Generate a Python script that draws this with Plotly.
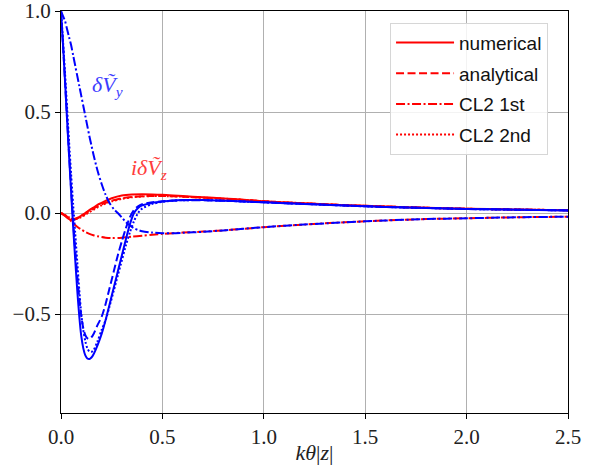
import plotly.graph_objects as go

# ---------------- data ----------------
# blue: delta V_y
xb = [0, 0.01, 0.02, 0.03, 0.04, 0.05, 0.06, 0.07, 0.08, 0.09, 0.10, 0.11, 0.12,
      0.13, 0.14, 0.15, 0.16, 0.18, 0.20, 0.22, 0.24, 0.26, 0.28, 0.30, 0.32,
      0.34, 0.36, 0.38, 0.40, 0.45, 0.50, 0.55, 0.60, 0.70, 0.80, 0.90, 1.0,
      1.2, 1.4, 1.6, 1.8, 2.0, 2.2, 2.5]
vy_num = [1.0, 0.83, 0.65, 0.46, 0.28, 0.10, -0.07, -0.23, -0.38, -0.51, -0.61, -0.67, -0.705,
          -0.72, -0.723, -0.715, -0.70, -0.655, -0.60, -0.53, -0.45, -0.37, -0.29, -0.21, -0.13,
          -0.055, 0.0, 0.025, 0.038, 0.05, 0.057, 0.062, 0.064, 0.064, 0.061, 0.057, 0.053,
          0.045, 0.037, 0.030, 0.025, 0.020, 0.017, 0.013]
vy_ana = [1.0, 0.83, 0.65, 0.47, 0.29, 0.12, -0.04, -0.18, -0.31, -0.42, -0.51, -0.57, -0.605,
          -0.62, -0.623, -0.615, -0.60, -0.555, -0.515, -0.45, -0.37, -0.29, -0.21, -0.14, -0.075,
          -0.02, 0.015, 0.033, 0.043, 0.053, 0.058, 0.061, 0.063, 0.063, 0.061, 0.057, 0.053,
          0.045, 0.037, 0.030, 0.025, 0.020, 0.017, 0.013]
vy_cl1 = [1.0, 0.975, 0.95, 0.91, 0.87, 0.83, 0.78, 0.73, 0.68, 0.63, 0.58, 0.53, 0.48,
          0.43, 0.38, 0.335, 0.29, 0.21, 0.145, 0.09, 0.048, 0.02, 0.0, -0.022, -0.045,
          -0.062, -0.075, -0.084, -0.09, -0.097, -0.10, -0.10, -0.098, -0.093, -0.086, -0.078, -0.070,
          -0.057, -0.046, -0.037, -0.030, -0.026, -0.022, -0.018]
vy_cl2 = [1.0, 0.85, 0.69, 0.52, 0.35, 0.19, 0.04, -0.10, -0.24, -0.38, -0.50, -0.58, -0.635,
          -0.67, -0.685, -0.687, -0.68, -0.635, -0.58, -0.53, -0.46, -0.385, -0.31, -0.235, -0.16,
          -0.095, -0.04, 0.0, 0.022, 0.045, 0.055, 0.061, 0.063, 0.064, 0.061, 0.057, 0.053,
          0.045, 0.037, 0.030, 0.025, 0.020, 0.017, 0.013]

# red: i delta V_z
xr = [0, 0.02, 0.04, 0.06, 0.08, 0.10, 0.12, 0.14, 0.16, 0.18, 0.20, 0.22, 0.25,
      0.30, 0.35, 0.40, 0.45, 0.50, 0.60, 0.70, 0.80, 0.90, 1.0, 1.2, 1.4,
      1.6, 1.8, 2.0, 2.2, 2.5]
vz_num = [0.0, -0.015, -0.03, -0.035, -0.027, -0.013, 0.0, 0.014, 0.027, 0.04, 0.05, 0.06, 0.073,
          0.087, 0.092, 0.093, 0.092, 0.090, 0.084, 0.078, 0.072, 0.066, 0.058, 0.048, 0.039,
          0.032, 0.026, 0.021, 0.018, 0.014]
vz_ana = [0.0, -0.012, -0.025, -0.03, -0.025, -0.015, -0.003, 0.01, 0.022, 0.033, 0.043, 0.051, 0.061,
          0.073, 0.079, 0.083, 0.084, 0.084, 0.081, 0.076, 0.071, 0.065, 0.058, 0.048, 0.039,
          0.032, 0.026, 0.021, 0.018, 0.014]
vz_cl1 = [0.0, -0.012, -0.03, -0.05, -0.068, -0.082, -0.094, -0.103, -0.110, -0.115, -0.119, -0.122, -0.124,
          -0.122, -0.117, -0.112, -0.107, -0.103, -0.097, -0.092, -0.086, -0.078, -0.070, -0.057, -0.046,
          -0.037, -0.030, -0.026, -0.022, -0.018]
vz_cl2 = [0.0, -0.01, -0.022, -0.03, -0.028, -0.02, -0.008, 0.004, 0.016, 0.028, 0.038, 0.047, 0.058,
          0.070, 0.078, 0.082, 0.084, 0.084, 0.081, 0.076, 0.071, 0.065, 0.058, 0.048, 0.039,
          0.032, 0.026, 0.021, 0.018, 0.014]

legend_names = ["numerical", "analytical", "CL2 1st", "CL2 2nd"]
x_ticks = [0.0, 0.5, 1.0, 1.5, 2.0, 2.5]
y_ticks = [-0.5, 0.0, 0.5, 1.0]

# ---------------- styling ----------------
dashes = ["solid", "8px,3.5px", "9px,2.5px,2px,2.5px", "2px,2px"]
RED = "#ff0000"
BLUE = "#0000ff"
LW = 2

fig = go.Figure()
for name, ys, d in zip(legend_names, [vz_num, vz_ana, vz_cl1, vz_cl2], dashes):
    fig.add_trace(go.Scatter(x=xr, y=ys, mode="lines", name=name, legendgroup=name,
                             line=dict(color=RED, width=LW, dash=d, shape="spline", smoothing=0.8)))
for name, ys, d in zip(legend_names, [vy_num, vy_ana, vy_cl1, vy_cl2], dashes):
    fig.add_trace(go.Scatter(x=xb, y=ys, mode="lines", name=name, showlegend=False,
                             legendgroup="b" + name,
                             line=dict(color=BLUE, width=LW, dash=d, shape="spline", smoothing=0.8)))

serif = "Liberation Serif"
fig.add_annotation(x=0.227, y=0.627, xref="x", yref="y", showarrow=False,
                   text="<i>δṼ</i><sub><i>y</i></sub>",
                   font=dict(family=serif, size=22, color="#3c3cff"))
fig.add_annotation(x=0.434, y=0.216, xref="x", yref="y", showarrow=False,
                   text="<i>iδṼ</i><sub><i>z</i></sub>",
                   font=dict(family=serif, size=22, color="#ff3c3c"))

axis_common = dict(showgrid=True, gridcolor="#b0b0b0", gridwidth=1, zeroline=False,
                   showline=True, linecolor="black", linewidth=1.2, mirror=True,
                   ticks="outside", ticklen=5, tickwidth=1, tickcolor="black",
                   automargin=False, ticklabeloverflow="allow",
                   tickfont=dict(family=serif, size=21, color="#222222"))

fig.update_xaxes(range=[0, 2.5], tickvals=x_ticks, ticktext=[f"{v:.1f}" for v in x_ticks],
                 title=dict(text="<i>kθ</i>|<i>z</i>|", font=dict(family=serif, size=22, color="#222222"),
                            standoff=1),
                 **axis_common)
fig.update_yaxes(range=[-0.99, 1.0], tickvals=y_ticks,
                 ticktext=["−0.5", "0.0", "0.5", "1.0"], **axis_common)

fig.update_layout(
    width=590, height=465,
    margin=dict(l=61, r=22, t=11, b=52),
    plot_bgcolor="white", paper_bgcolor="white",
    showlegend=True,
    legend=dict(x=0.649, y=0.971, xanchor="left", yanchor="top",
                bgcolor="rgba(255,255,255,0.85)", bordercolor="#d6d6d6", borderwidth=1,
                font=dict(family="Liberation Sans", size=19, color="#111111"),
                tracegroupgap=3, itemwidth=58),
)

fig.write_html("out.html", config={"displayModeBar": False},
               post_script="document.body.style.margin='0px';")
